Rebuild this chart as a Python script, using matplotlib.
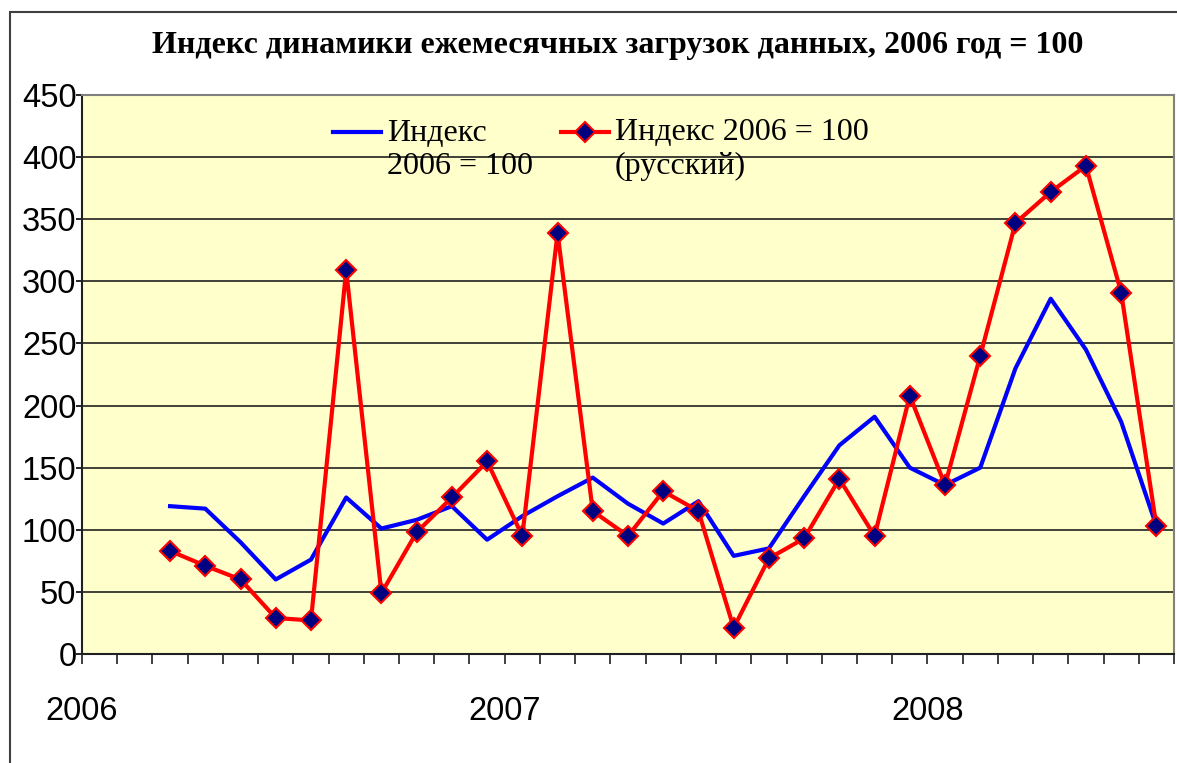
import numpy as np
import matplotlib
matplotlib.use('Agg')
from matplotlib import pyplot as plt
from matplotlib.patches import Rectangle

# месяцы от января 2006 (точки в середине месяца), март 2006 - июль 2008
months = np.arange(2, 31) + 0.5

idx_all = [119, 117, 90, 60, 76, 126, 101, 108, 119, 92,
           111, 127, 142, 121, 105, 123, 79, 85, 127, 168,
           191, 150, 136, 150, 230, 286, 245, 187, 103]

idx_ru = [83, 71, 60, 29, 27, 309, 49, 98, 126, 155,
          95, 339, 115, 95, 131, 115, 21, 77, 93, 141,
          95, 208, 136, 240, 347, 372, 393, 291, 103]

year_pos = [0, 12, 24]
year_labels = ['2006', '2007', '2008']

title = 'Индекс динамики ежемесячных загрузок данных, 2006 год = 100'
label_all = 'Индекс\n2006 = 100'
label_ru = 'Индекс 2006 = 100\n(русский)'

serif = ['Liberation Serif', 'DejaVu Serif']
sans = ['Liberation Sans', 'DejaVu Sans']

fig = plt.figure(figsize=(11.77, 7.63), dpi=100)
ax = fig.add_axes([82/1177, 1 - 654/763, 1092/1177, 559/763])
ax.set_facecolor('#FFFFCC')

# рамка вокруг всей диаграммы
fig.patches.append(Rectangle((10/1177, -0.1), 1.1, 1.1 - 12/763,
                             transform=fig.transFigure, fill=False,
                             edgecolor='#404040', linewidth=1.5))

ax.plot(months, idx_all, color='#0000FF', linewidth=3, label=label_all, zorder=3)
ax.plot(months, idx_ru, color='#FF0000', linewidth=3, marker='D', markersize=10,
        markerfacecolor='#000080', markeredgecolor='#FF0000', markeredgewidth=1.5,
        label=label_ru, zorder=4)

ax.set_xlim(0, 31)
ax.set_ylim(0, 450)
ax.set_yticks(np.arange(0, 451, 50))
ax.yaxis.grid(True, color='#202020', linewidth=1.2)
ax.set_axisbelow(True)

ax.set_xticks(year_pos)
ax.set_xticklabels(year_labels)
ax.set_xticks(np.arange(0, 32), minor=True)
ax.tick_params(axis='x', which='both', direction='out', length=7, width=1.2, color='#202020')
ax.tick_params(axis='x', which='major', pad=23)
ax.tick_params(axis='y', direction='out', length=4, width=1.2, pad=0)

for lab in ax.get_xticklabels() + ax.get_yticklabels():
    lab.set_family(sans)
    lab.set_fontsize(23.5)

for s in ['left', 'bottom']:
    ax.spines[s].set_color('#202020')
    ax.spines[s].set_linewidth(1.5)
for s in ['top', 'right']:
    ax.spines[s].set_color('#808080')
    ax.spines[s].set_linewidth(1.5)

fig.text(0.5246, 1 - 45/763, title, ha='center', va='center',
         family=serif, fontweight='bold', fontsize=23)

leg = ax.legend(loc='upper left', bbox_to_anchor=(0.23, 0.958), ncol=2, frameon=False,
                prop={'family': serif, 'size': 23}, handlelength=1.5, handletextpad=0.2,
                handleheight=1.2, columnspacing=0.85, borderpad=0, borderaxespad=0,
                labelspacing=0.2)
# значок легенды на уровне первой строки подписи
for col in leg._legend_handle_box.get_children():
    for item in col.get_children():
        item.align = 'top'

fig.savefig('out.png', dpi=100)
